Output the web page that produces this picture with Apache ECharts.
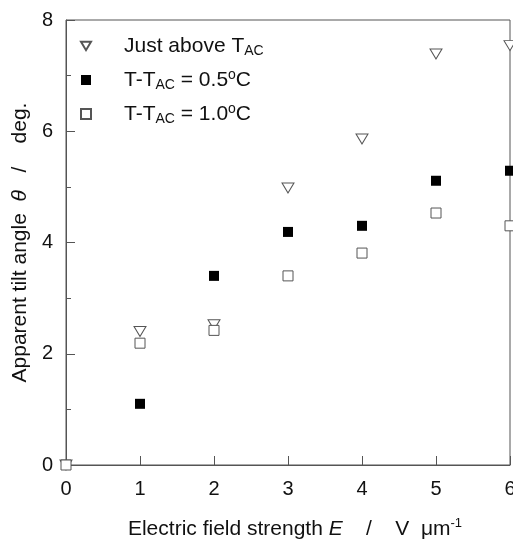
<!DOCTYPE html>
<html><head><meta charset="utf-8">
<script src="https://cdn.jsdelivr.net/npm/echarts@6/dist/echarts.min.js"></script>
<style>html,body{margin:0;padding:0;background:#fff}#c{width:513px;height:539px}</style>
</head><body><div id="c"></div>
<script>
const fieldE = [0, 1, 2, 3, 4, 5, 6];
const justAbove = [0, 2.40, 2.52, 4.98, 5.86, 7.39, 7.54];
const dT05 = [0, 1.10, 3.40, 4.19, 4.30, 5.11, 5.29];
const dT10 = [0, 2.19, 2.42, 3.40, 3.81, 4.53, 4.30];
const xTicks = [0, 1, 2, 3, 4, 5, 6];
const yTicks = [0, 2, 4, 6, 8];

const pair = arr => fieldE.map((x, i) => [x, arr[i]]);
const FONT = '"Liberation Sans", Arial, sans-serif';
const AX = '#555';
const TXT = '#111';
const tri = 'path://M0,0 L12,0 L6,10 Z';

const chart = echarts.init(document.getElementById('c'), null, {renderer: 'canvas'});
chart.setOption({
  animation: false,
  backgroundColor: '#fff',
  textStyle: {fontFamily: FONT, color: TXT},
  grid: {left: 66, right: 3, top: 20, bottom: 74, outerBoundsMode: 'none', containLabel: false,
    show: true, borderColor: AX, borderWidth: 1, backgroundColor: 'transparent'},
  legend: {
    orient: 'vertical', left: 75, top: 27, itemWidth: 10, itemHeight: 10, itemGap: 8,
    data: ['a', 'b', 'c'],
    formatter: function (n) {
      if (n === 'a') return '{sp|}{n|Just above T}{sub|AC}';
      if (n === 'b') return '{sp|}{n|T-T}{sub|AC}{n| = 0.5}{sup|o}{n|C}';
      return '{sp|}{n|T-T}{sub|AC}{n| = 1.0}{sup|o}{n|C}';
    },
    textStyle: {
      fontFamily: FONT, color: TXT,
      rich: {
        sp: {width: 28},
        n: {fontSize: 21, lineHeight: 24, fontFamily: FONT, color: TXT},
        sub: {fontSize: 14, lineHeight: 14, verticalAlign: 'bottom', fontFamily: FONT, color: TXT, padding: [12, 0, 0, 0]},
        sup: {fontSize: 14, lineHeight: 14, verticalAlign: 'top', fontFamily: FONT, color: TXT, padding: [0, 0, 10, 0]}
      }
    }
  },
  xAxis: {
    type: 'value', min: 0, max: 6, interval: 1,
    axisLine: {show: true, lineStyle: {color: AX, width: 1}},
    axisTick: {show: true, inside: true, length: 9, lineStyle: {color: AX}},
    splitLine: {show: false},
    axisLabel: {fontSize: 20, color: TXT, margin: 14, fontFamily: FONT,
      customValues: xTicks, formatter: v => String(v)},
    name: '{n|Electric field strength }{i|E}{n|    /    V  μm}{sup|-1}',
    nameLocation: 'middle', nameGap: 52,
    nameTextStyle: {
      padding: [0, 0, 0, 14],
      rich: {
        n: {fontSize: 21, fontFamily: FONT, color: TXT, lineHeight: 24},
        i: {fontSize: 21, fontFamily: FONT, color: TXT, fontStyle: 'italic', lineHeight: 24},
        sup: {fontSize: 13, fontFamily: FONT, color: TXT, verticalAlign: 'top', lineHeight: 13, padding: [0, 0, 10, 0]}
      }
    }
  },
  yAxis: {
    type: 'value', min: 0, max: 8, interval: 2,
    axisLine: {show: true, lineStyle: {color: AX, width: 1}},
    axisTick: {show: true, inside: true, length: 9, lineStyle: {color: AX}},
    minorTick: {show: true, splitNumber: 2, length: 5, lineStyle: {color: AX}},
    splitLine: {show: false},
    axisLabel: {fontSize: 20, color: TXT, margin: 13, fontFamily: FONT,
      customValues: yTicks, formatter: v => String(v)},
    name: '{n|Apparent tilt angle  }{i|θ}{n|   /    deg.}',
    nameLocation: 'middle', nameGap: 30, nameRotate: 90,
    nameTextStyle: {
      rich: {
        n: {fontSize: 21, fontFamily: FONT, color: TXT},
        i: {fontSize: 21, fontFamily: FONT, color: TXT, fontStyle: 'italic'}
      }
    }
  },
  series: [
    {name: 'a', type: 'scatter', data: pair(justAbove), symbol: tri, symbolSize: [12, 10], clip: false,
      itemStyle: {color: '#fff', borderColor: '#555', borderWidth: 1, opacity: 1}},
    {name: 'b', type: 'scatter', data: pair(dT05), symbol: 'rect', symbolSize: 10, clip: false,
      itemStyle: {color: '#000', borderColor: '#000', borderWidth: 0, opacity: 1}},
    {name: 'c', type: 'scatter', data: pair(dT10), symbol: 'rect', symbolSize: 10, clip: false,
      itemStyle: {color: '#fff', borderColor: '#555', borderWidth: 1, opacity: 1}}
  ]
});
</script></body></html>
